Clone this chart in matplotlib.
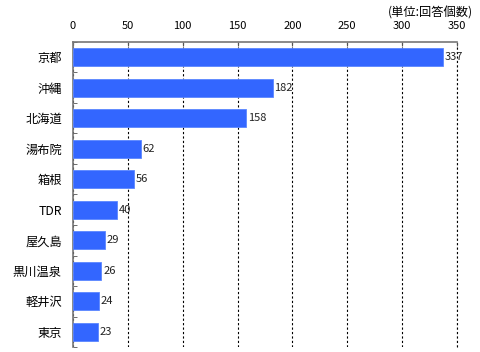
import numpy as np
import matplotlib
matplotlib.use('Agg')
import matplotlib.pyplot as plt

plt.rcParams['font.family'] = ['Noto Sans CJK JP', 'DejaVu Sans']

# データ
places = ['京都', '沖縄', '北海道', '湯布院', '箱根', 'TDR', '屋久島', '黒川温泉', '軽井沢', '東京']
counts = [337, 182, 158, 62, 56, 40, 29, 26, 24, 23]
xticks = [0, 50, 100, 150, 200, 250, 300, 350]

fig = plt.figure(figsize=(4.8, 3.52), dpi=100)
ax = fig.add_axes([0.152, 0.014, 0.8, 0.867])

y = np.arange(len(places))
ax.barh(y, counts, height=0.58, color='#3366FF', edgecolor='#5B86FF', linewidth=0.6, zorder=3)

for yi, c in zip(y, counts):
    ax.text(c + 1.5, yi, str(c), va='center', ha='left', fontsize=8, color='#222222', zorder=4)

ax.set_xlim(0, 350)
ax.set_ylim(len(places) - 0.5, -0.5)
ax.set_xticks(xticks)
ax.xaxis.tick_top()
ax.tick_params(axis='x', direction='in', length=3, width=0.8, color='#555555',
               labelsize=8, pad=8)
ax.set_yticks(y)
ax.set_yticklabels(places, fontsize=8.8)
ax.set_yticks(np.arange(len(places) + 1) - 0.5, minor=True)
ax.tick_params(axis='y', which='major', length=0, pad=8)
ax.tick_params(axis='y', which='minor', direction='in', length=3, color='#555555')

ax.grid(axis='x', linestyle=(0, (2, 2)), color='black', linewidth=0.8, zorder=1)
ax.axvline(350, linestyle=(0, (2, 2)), color='black', linewidth=0.8, zorder=1, clip_on=False)

for s in ['right', 'bottom']:
    ax.spines[s].set_visible(False)
for s in ['top', 'left']:
    ax.spines[s].set_color('#777777')
    ax.spines[s].set_linewidth(1.2)

fig.text(0.985, 0.962, '(単位:回答個数)', ha='right', va='center', fontsize=8.8)

fig.savefig('out.png', dpi=100)
